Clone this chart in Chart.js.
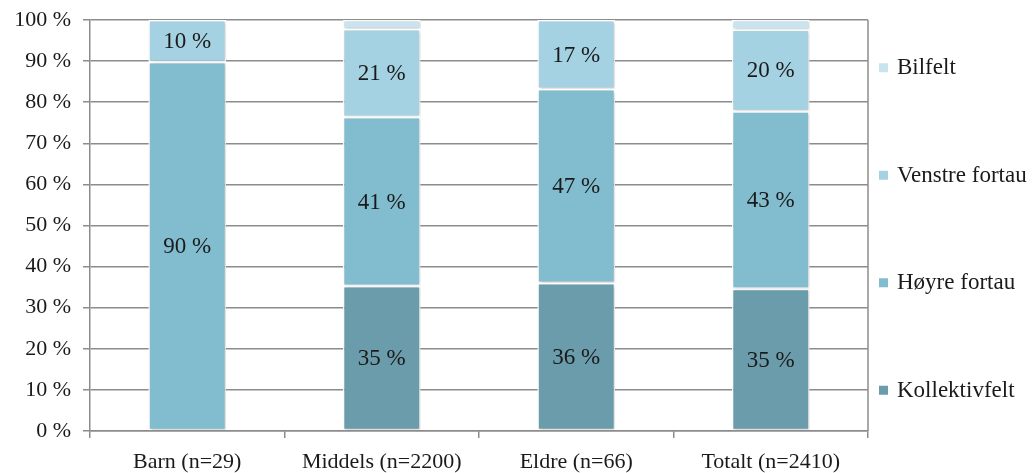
<!DOCTYPE html>
<html>
<head>
<meta charset="utf-8">
<script src="https://cdn.jsdelivr.net/npm/chart.js@4"></script>
<style>
  html, body { margin: 0; padding: 0; background: #fff; }
  #wrap { width: 1034px; height: 473px; }
</style>
</head>
<body>
<div id="wrap"><canvas id="chart"></canvas></div>
<script>
const CATEGORIES = ["Barn (n=29)", "Middels (n=2200)", "Eldre (n=66)", "Totalt (n=2410)"];
const KOLLEKTIVFELT = [0, 35.3, 36.0, 34.6];
const HOYRE_FORTAU = [89.8, 41.1, 47.2, 43.2];
const VENSTRE_FORTAU = [10.2, 21.4, 16.8, 19.9];
const BILFELT = [0, 2.2, 0, 2.3];
const Y_MAX = 100;
const Y_STEP = 10;

const FONT = "'Liberation Serif', 'DejaVu Serif', serif";
const GRID = "#8c8c8c";

const SERIES = [
  { label: "Kollektivfelt", data: KOLLEKTIVFELT, color: "#6b9cab" },
  { label: "Høyre fortau", data: HOYRE_FORTAU, color: "#81bccf" },
  { label: "Venstre fortau", data: VENSTRE_FORTAU, color: "#a5d2e2" },
  { label: "Bilfelt", data: BILFELT, color: "#c9e4ef" }
];

// soft shadow round the bars
const barShadow = {
  id: "barShadow",
  beforeDatasetsDraw(chart){
    const ctx = chart.ctx;
    ctx.save();
    ctx.shadowColor = "rgba(0,0,0,0.22)";
    ctx.shadowBlur = 3;
    ctx.shadowOffsetX = 1;
    ctx.shadowOffsetY = 1;
  },
  afterDatasetsDraw(chart){
    chart.ctx.restore();
  }
};

// percentage text inside each segment, right border, legend on the side
const decorations = {
  id: "decorations",
  afterDatasetsDraw(chart){
    const ctx = chart.ctx;
    ctx.save();
    ctx.font = "23px " + FONT;
    ctx.fillStyle = "#1a1a1a";
    ctx.textAlign = "center";
    ctx.textBaseline = "middle";
    chart.data.datasets.forEach((ds, i) => {
      const meta = chart.getDatasetMeta(i);
      meta.data.forEach((bar, j) => {
        const v = ds.data[j];
        if(v < 5) return;
        ctx.fillText(Math.round(v) + " %", bar.x, (bar.y + bar.base) / 2 + 1);
      });
    });
    ctx.restore();
  },
  afterDraw(chart){
    const ctx = chart.ctx;
    const a = chart.chartArea;
    ctx.save();
    ctx.strokeStyle = GRID;
    ctx.lineWidth = 1.5;
    ctx.beginPath();
    ctx.moveTo(a.right, a.top);
    ctx.lineTo(a.right, a.bottom);
    ctx.stroke();

    const mid = (a.top + a.bottom) / 2 + 3;
    const step = 107.5;
    ctx.font = "23px " + FONT;
    ctx.textAlign = "left";
    ctx.textBaseline = "middle";
    const items = SERIES.slice().reverse();
    items.forEach((s, i) => {
      const y = mid + (i - 1.5) * step;
      ctx.fillStyle = s.color;
      ctx.fillRect(a.right + 11, y - 4, 9, 9);
      ctx.fillStyle = "#1a1a1a";
      ctx.fillText(s.label, a.right + 29, y + 1);
    });
    ctx.restore();
  }
};

new Chart(document.getElementById("chart"), {
  type: "bar",
  data: {
    labels: CATEGORIES,
    datasets: SERIES.map(s => ({
      label: s.label,
      data: s.data,
      backgroundColor: s.color,
      borderColor: "#ffffff",
      borderWidth: 1.5,
      borderSkipped: false,
      categoryPercentage: 1,
      barPercentage: 0.4
    }))
  },
  options: {
    responsive: true,
    maintainAspectRatio: false,
    animation: false,
    layout: { padding: { top: 20, right: 166, left: 0, bottom: 0 } },
    plugins: {
      legend: { display: false },
      tooltip: { enabled: false }
    },
    scales: {
      x: {
        stacked: true,
        afterFit(scale){ scale.height = 42; },
        border: { display: true, color: GRID, width: 1.5 },
        grid: { display: true, drawOnChartArea: false, offset: true, tickLength: 7, color: GRID, lineWidth: 1.5 },
        ticks: { color: "#1a1a1a", font: { family: FONT, size: 22 }, padding: 11, maxRotation: 0 }
      },
      y: {
        stacked: true,
        min: 0,
        max: Y_MAX,
        afterFit(scale){
          scale.width = 90;
          scale.paddingTop = 0;
          scale.paddingBottom = 0;
        },
        border: { display: true, color: GRID, width: 1.5 },
        grid: { color: GRID, lineWidth: 1.5, tickLength: 7 },
        ticks: {
          stepSize: Y_STEP,
          color: "#1a1a1a",
          font: { family: FONT, size: 22 },
          padding: 12,
          callback: v => v + " %"
        }
      }
    }
  },
  plugins: [barShadow, decorations]
});
</script>
</body>
</html>
